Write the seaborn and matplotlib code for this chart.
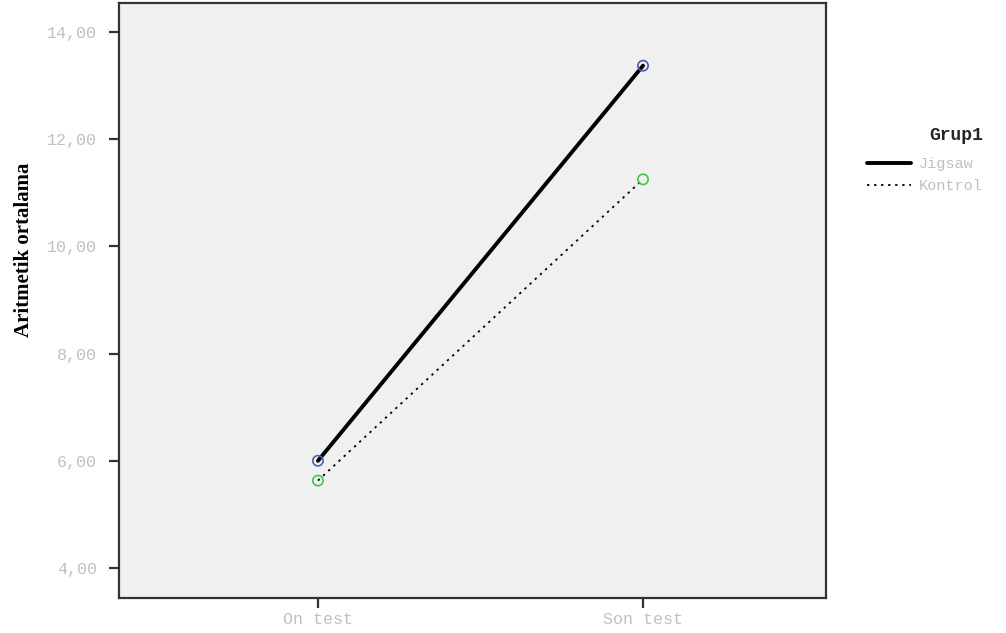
import pandas as pd
import seaborn as sns
from matplotlib import pyplot as plt

# values
tests = ['On test', 'Son test']
jigsaw = [6.00, 13.37]
kontrol = [5.63, 11.25]
groups = ['Jigsaw', 'Kontrol']
yticks = [4, 6, 8, 10, 12, 14]

df = pd.DataFrame({
    'test': tests * 2,
    'pos': [0, 1] * 2,
    'mean': jigsaw + kontrol,
    'grup': [groups[0]] * 2 + [groups[1]] * 2,
})

sns.set_style('white')
mono = 'Liberation Mono'
light = '#c0c0c0'

fig = plt.figure(figsize=(10.06, 6.33), dpi=100)
ax = fig.add_axes([0.1183, 0.0553, 0.7028, 0.940])
ax.set_facecolor('#f0f0f0')

line_styles = {'Jigsaw': dict(lw=2.8, ls='-'), 'Kontrol': dict(lw=1.3, ls=(0, (1.3, 2.6)))}
marker_colors = {'Jigsaw': '#4a5fb8', 'Kontrol': '#3dc84a'}

for g in groups:
    sub = df[df['grup'] == g]
    sns.lineplot(data=sub, x='pos', y='mean', color='black', ax=ax,
                 label=g, **line_styles[g])
    sns.scatterplot(data=sub, x='pos', y='mean', ax=ax, marker='o', s=55,
                    facecolors='none', edgecolor=marker_colors[g], linewidth=1.2,
                    zorder=5, legend=False)

ax.set_xlim(-0.612, 1.563)
ax.set_ylim(3.44, 14.54)
ax.set_xticks([0, 1])
ax.set_xticklabels(tests)
ax.set_yticks(yticks)
ax.set_yticklabels([f'{v},00' for v in yticks])
ax.tick_params(axis='both', length=7, width=1.6, color='#333333', labelcolor=light,
               labelsize=12, direction='out', left=True, bottom=True)
ax.tick_params(axis='y', pad=9)
ax.tick_params(axis='x', pad=3)
for lab in ax.get_xticklabels() + ax.get_yticklabels():
    lab.set_family(mono)
ax.set_xlabel('')
ax.set_ylabel('Aritmetik ortalama', fontsize=15, fontweight='bold',
              family='Liberation Serif', color='black')
ax.yaxis.set_label_coords(-0.12, 0.585)
for sp in ax.spines.values():
    sp.set_color('#333333')
    sp.set_linewidth(1.6)

handles, labels = ax.get_legend_handles_labels()
ax.get_legend().remove()
leg = fig.legend(handles, labels, title='Grup1', loc='upper left',
                 bbox_to_anchor=(0.862, 0.80), frameon=False, handlelength=2.9,
                 handletextpad=0.5, labelspacing=0.5, borderpad=0, borderaxespad=0,
                 fontsize=11)
leg.get_title().set_family(mono)
leg.get_title().set_fontsize(13)
leg.get_title().set_fontweight('bold')
leg._legend_box.align = 'right'
leg._legend_box.sep = 10
for t in leg.get_texts():
    t.set_family(mono)
    t.set_color(light)

fig.savefig('out.png', dpi=100)
